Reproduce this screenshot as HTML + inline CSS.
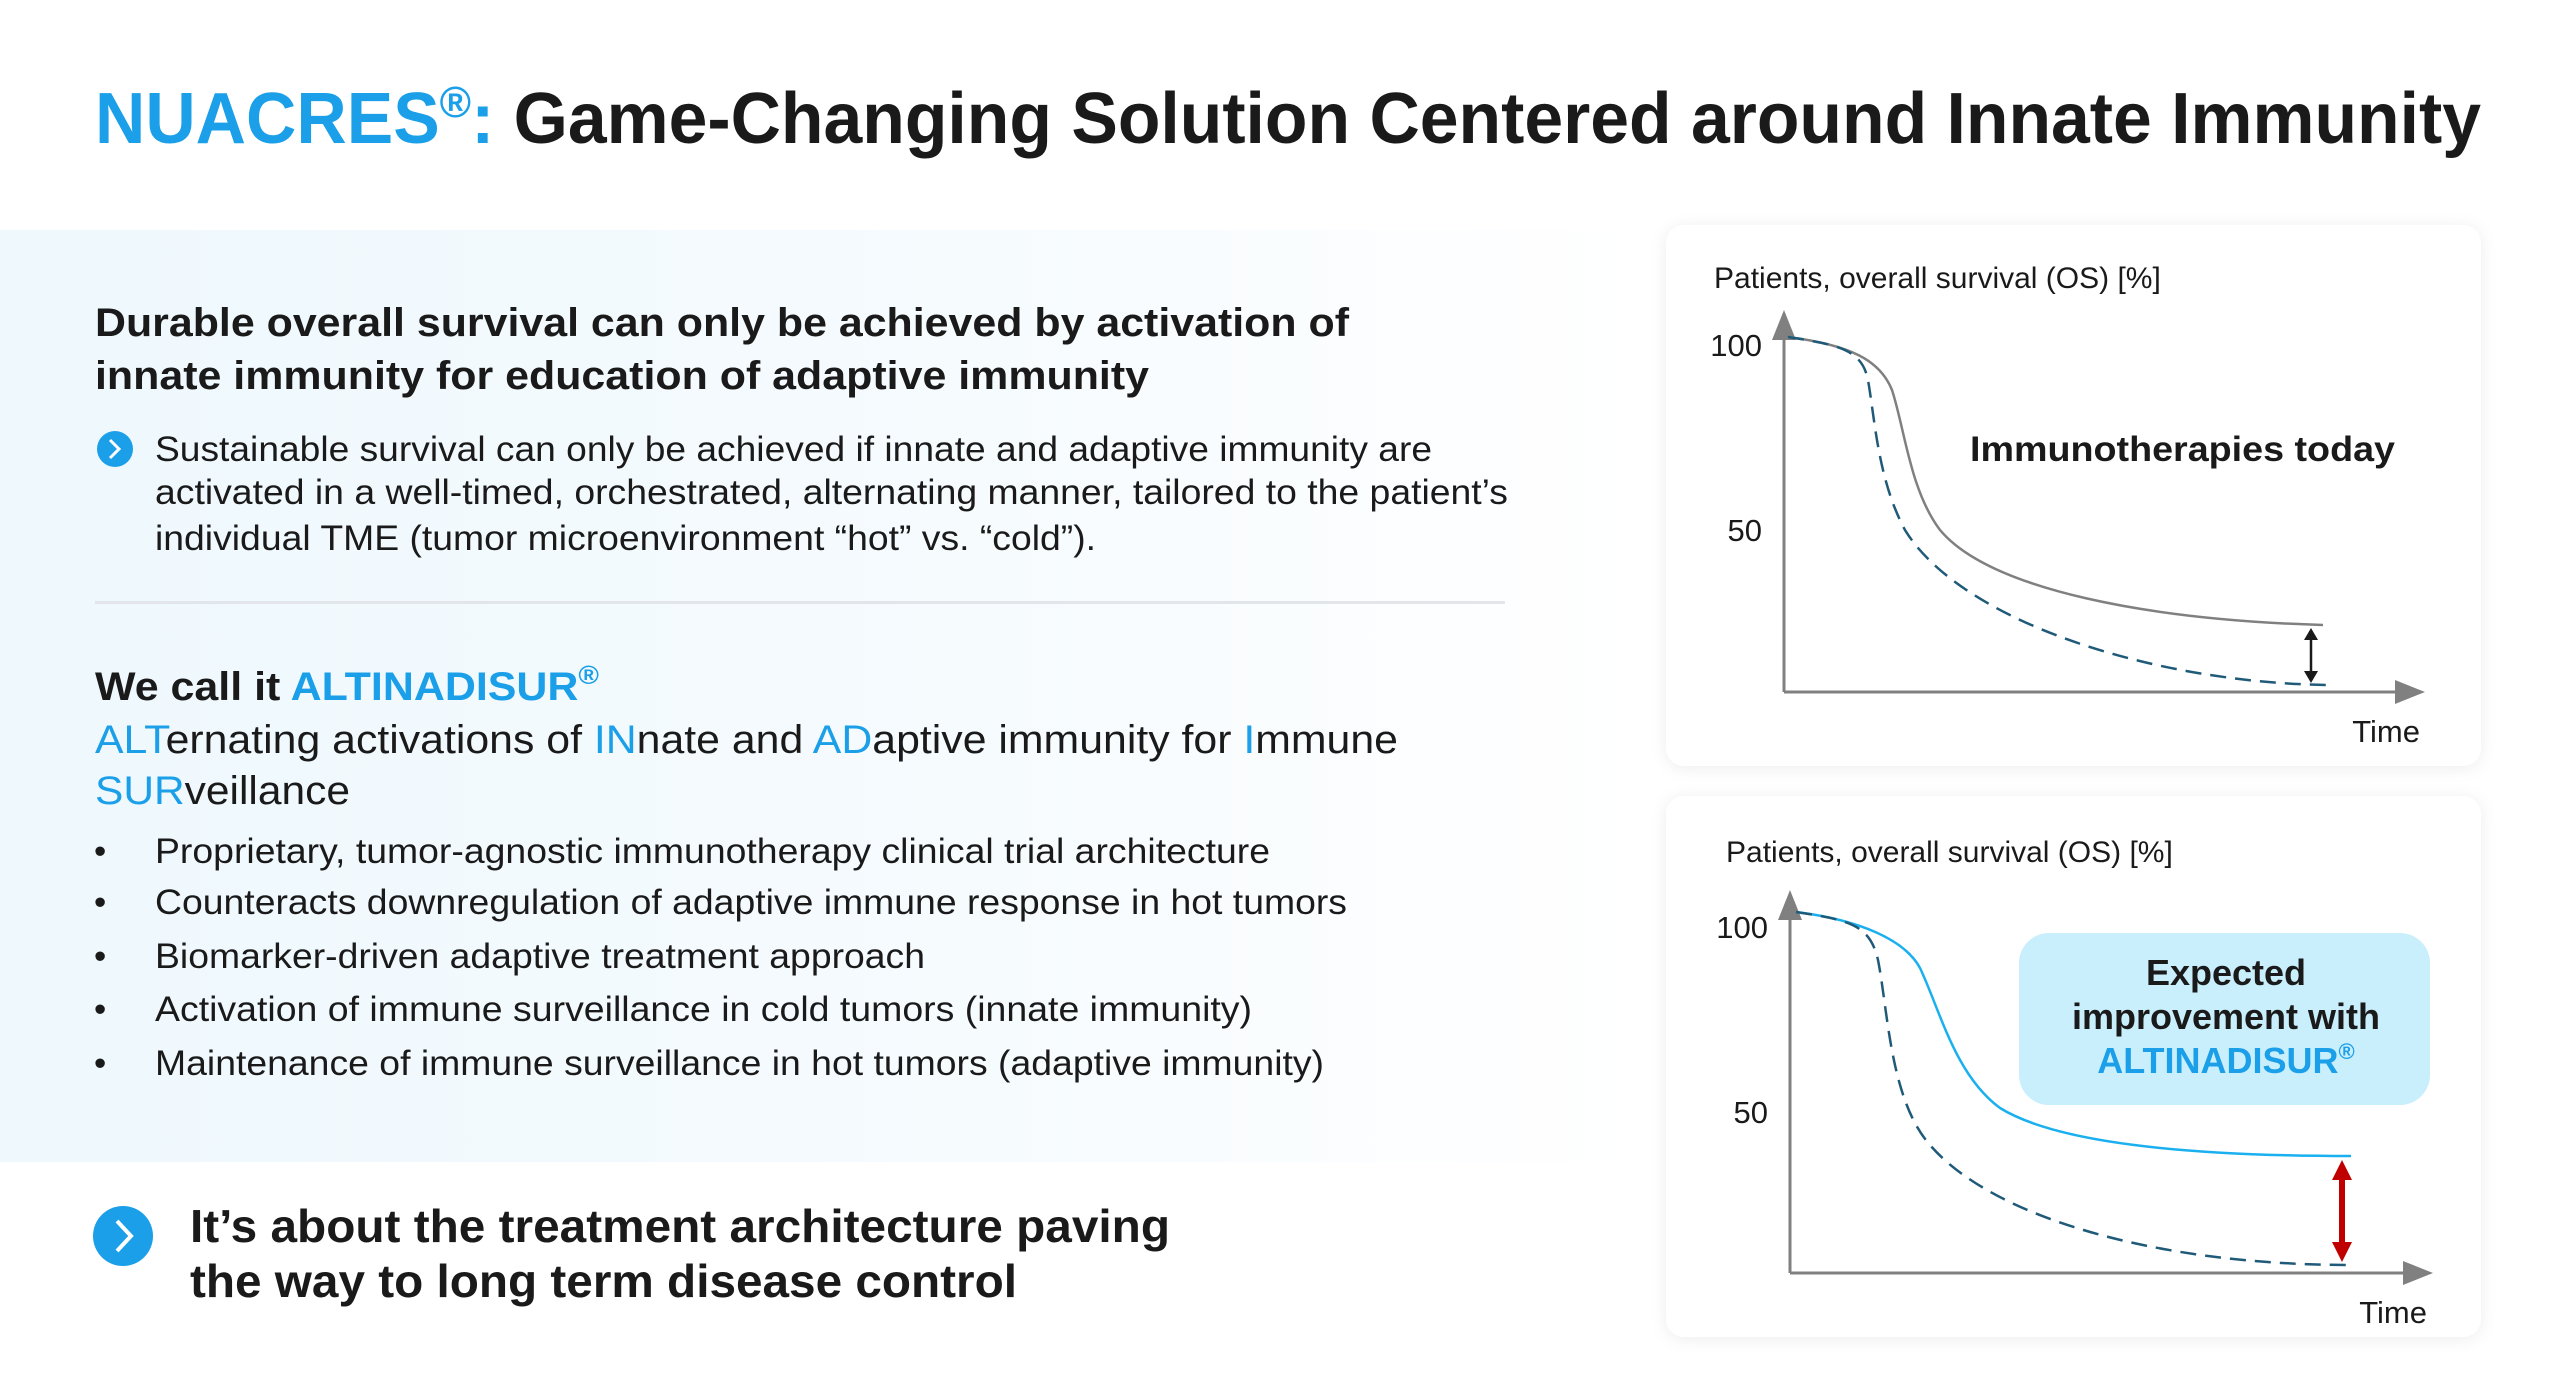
<!DOCTYPE html>
<html><head><meta charset="utf-8"><style>
html,body{margin:0;padding:0;background:#fff;}
svg{display:block;}
text{font-family:"Liberation Sans",Arial,sans-serif;}
</style></head><body>
<svg width="2560" height="1393" viewBox="0 0 2560 1393" xmlns="http://www.w3.org/2000/svg">
<defs>
<linearGradient id="bg" x1="0" x2="1" y1="0" y2="0">
<stop offset="0" stop-color="#eef8fd"/><stop offset="0.6" stop-color="#f6fbfe"/><stop offset="1" stop-color="#ffffff"/>
</linearGradient>
<filter id="sh" x="-5%" y="-5%" width="110%" height="110%"><feDropShadow dx="0" dy="2" stdDeviation="8" flood-color="#000" flood-opacity="0.07"/></filter>
<marker id="ga" markerWidth="10" markerHeight="10" refX="5" refY="5" orient="auto"><path d="M0,1 L10,5 L0,9 z" fill="#808080"/></marker>
</defs>
<rect x="0" y="230" width="1640" height="932" fill="url(#bg)"/>

<text x="95" y="143" font-size="72" font-weight="bold" fill="#1a1a1a" textLength="2386" lengthAdjust="spacingAndGlyphs"><tspan fill="#1a9fe8">NUACRES<tspan font-size="44" dy="-26">®</tspan><tspan dy="26">:</tspan></tspan> Game-Changing Solution Centered around Innate Immunity</text>

<text x="95" y="336" font-size="40" font-weight="bold" fill="#1a1a1a" textLength="1254" lengthAdjust="spacingAndGlyphs">Durable overall survival can only be achieved by activation of</text>
<text x="95" y="389" font-size="40" font-weight="bold" fill="#1a1a1a" textLength="1054" lengthAdjust="spacingAndGlyphs">innate immunity for education of adaptive immunity</text>

<circle cx="115" cy="449" r="18" fill="#1a9fe8"/>
<path d="M110,440 L119,449 L110,458" stroke="#fff" stroke-width="3" fill="none"/>
<g font-size="35" fill="#1a1a1a">
<text x="155" y="461" textLength="1277" lengthAdjust="spacingAndGlyphs">Sustainable survival can only be achieved if innate and adaptive immunity are</text>
<text x="155" y="504" textLength="1353" lengthAdjust="spacingAndGlyphs">activated in a well-timed, orchestrated, alternating manner, tailored to the patient’s</text>
<text x="155" y="550" textLength="941" lengthAdjust="spacingAndGlyphs">individual TME (tumor microenvironment “hot” vs. “cold”).</text>
</g>
<rect x="95" y="601" width="1410" height="3" fill="#e2e6ea"/>

<text x="95" y="700" font-size="40" font-weight="bold" fill="#1a1a1a" textLength="504" lengthAdjust="spacingAndGlyphs">We call it <tspan fill="#1a9fe8">ALTINADISUR<tspan font-size="26" dy="-16">®</tspan></tspan></text>
<text x="95" y="753" font-size="40" fill="#1a1a1a" textLength="1303" lengthAdjust="spacingAndGlyphs"><tspan fill="#1a9fe8">ALT</tspan>ernating activations of <tspan fill="#1a9fe8">IN</tspan>nate and <tspan fill="#1a9fe8">AD</tspan>aptive immunity for <tspan fill="#1a9fe8">I</tspan>mmune</text>
<text x="95" y="804" font-size="40" fill="#1a1a1a" textLength="255" lengthAdjust="spacingAndGlyphs"><tspan fill="#1a9fe8">SUR</tspan>veillance</text>

<g font-size="35" fill="#1a1a1a">
<text x="94" y="863">•</text><text x="155" y="863" textLength="1115" lengthAdjust="spacingAndGlyphs">Proprietary, tumor-agnostic immunotherapy clinical trial architecture</text>
<text x="94" y="914">•</text><text x="155" y="914" textLength="1192" lengthAdjust="spacingAndGlyphs">Counteracts downregulation of adaptive immune response in hot tumors</text>
<text x="94" y="968">•</text><text x="155" y="968" textLength="770" lengthAdjust="spacingAndGlyphs">Biomarker-driven adaptive treatment approach</text>
<text x="94" y="1021">•</text><text x="155" y="1021" textLength="1097" lengthAdjust="spacingAndGlyphs">Activation of immune surveillance in cold tumors (innate immunity)</text>
<text x="94" y="1075">•</text><text x="155" y="1075" textLength="1169" lengthAdjust="spacingAndGlyphs">Maintenance of immune surveillance in hot tumors (adaptive immunity)</text>
</g>

<circle cx="123" cy="1236" r="30" fill="#1a9fe8"/>
<path d="M117,1221 L131,1236 L117,1251" stroke="#fff" stroke-width="4" fill="none"/>
<text x="190" y="1242" font-size="46" font-weight="bold" fill="#1a1a1a" textLength="980" lengthAdjust="spacingAndGlyphs">It’s about the treatment architecture paving</text>
<text x="190" y="1297" font-size="46" font-weight="bold" fill="#1a1a1a" textLength="827" lengthAdjust="spacingAndGlyphs">the way to long term disease control</text>

<!-- Card 1 -->
<rect x="1666" y="225" width="815" height="541" rx="18" fill="#fff" filter="url(#sh)"/>
<text x="1714" y="288" font-size="30" fill="#1a1a1a">Patients, overall survival (OS) [%]</text>
<line x1="1784" y1="692" x2="1784" y2="325" stroke="#808080" stroke-width="3" marker-end="url(#ga)"/>
<line x1="1784" y1="692" x2="2410" y2="692" stroke="#808080" stroke-width="3" marker-end="url(#ga)"/>
<text x="1762" y="356" font-size="31" fill="#1a1a1a" text-anchor="end">100</text>
<text x="1762" y="541" font-size="31" fill="#1a1a1a" text-anchor="end">50</text>
<text x="2420" y="742" font-size="31" fill="#1a1a1a" text-anchor="end">Time</text>
<path d="M1788,337 C1850,345 1880,360 1892,390 C1905,430 1910,490 1940,530 C1990,590 2150,620 2323,625" stroke="#808080" stroke-width="2.5" fill="none"/>
<path d="M1788,337 C1840,345 1862,350 1868,380 C1875,420 1878,480 1905,530 C1960,620 2150,683 2330,685" stroke="#1f5a78" stroke-width="2.5" stroke-dasharray="16,9" fill="none"/>
<line x1="2311" y1="636" x2="2311" y2="675" stroke="#1a1a1a" stroke-width="2.5"/>
<path d="M2304,640 L2311,628 L2318,640 z M2304,671 L2311,683 L2318,671 z" fill="#1a1a1a"/>
<text x="1970" y="461" font-size="35" font-weight="bold" fill="#1a1a1a" textLength="425" lengthAdjust="spacingAndGlyphs">Immunotherapies today</text>

<!-- Card 2 -->
<rect x="1666" y="796" width="815" height="541" rx="18" fill="#fff" filter="url(#sh)"/>
<text x="1726" y="862" font-size="30" fill="#1a1a1a">Patients, overall survival (OS) [%]</text>
<line x1="1790" y1="1273" x2="1790" y2="905" stroke="#808080" stroke-width="3" marker-end="url(#ga)"/>
<line x1="1790" y1="1273" x2="2418" y2="1273" stroke="#808080" stroke-width="3" marker-end="url(#ga)"/>
<text x="1768" y="938" font-size="31" fill="#1a1a1a" text-anchor="end">100</text>
<text x="1768" y="1123" font-size="31" fill="#1a1a1a" text-anchor="end">50</text>
<text x="2427" y="1323" font-size="31" fill="#1a1a1a" text-anchor="end">Time</text>
<path d="M1796,912 C1860,920 1905,940 1920,968 C1940,1010 1955,1075 2000,1108 C2060,1145 2200,1156 2351,1156" stroke="#1ab0ef" stroke-width="2.5" fill="none"/>
<path d="M1796,912 C1850,920 1870,925 1878,960 C1888,1010 1890,1100 1930,1145 C1990,1215 2150,1265 2351,1265" stroke="#1f5a78" stroke-width="2.5" stroke-dasharray="16,9" fill="none"/>
<line x1="2342" y1="1178" x2="2342" y2="1244" stroke="#c00000" stroke-width="6"/>
<path d="M2332,1180 L2342,1160 L2352,1180 z M2332,1242 L2342,1262 L2352,1242 z" fill="#c00000"/>
<rect x="2019" y="933" width="411" height="172" rx="30" fill="#c9effc"/>
<g font-size="36" font-weight="bold" text-anchor="middle">
<text x="2226" y="985" fill="#1a1a1a">Expected</text>
<text x="2226" y="1029" fill="#1a1a1a">improvement with</text>
<text x="2226" y="1073" fill="#1a9fe8">ALTINADISUR<tspan font-size="22" dy="-14">®</tspan></text>
</g>
</svg>
</body></html>
